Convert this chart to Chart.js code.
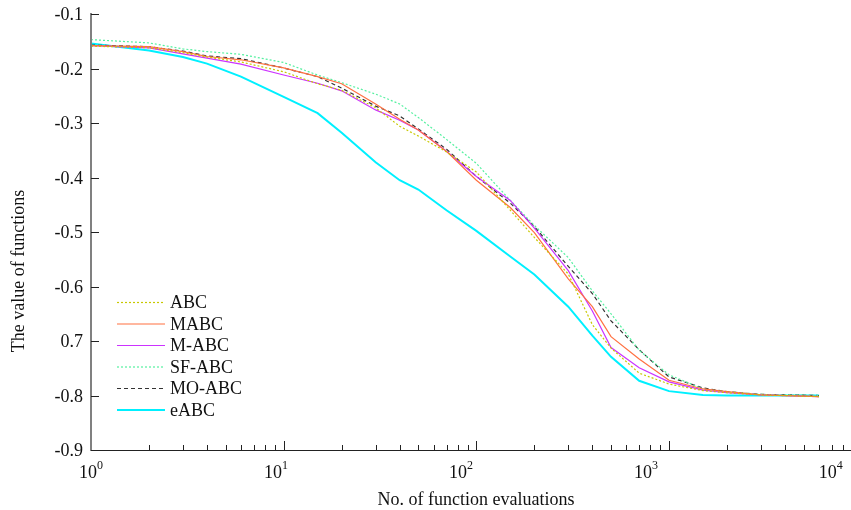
<!DOCTYPE html>
<html>
<head>
<meta charset="utf-8">
<script src="https://cdn.jsdelivr.net/npm/chart.js@4.4.0/dist/chart.umd.min.js"></script>
<style>
html, body { margin: 0; padding: 0; background: #fff; }
</style>
</head>
<body>
<canvas id="grafico" width="851" height="510"></canvas>
<script>
// datos
const evaluaciones = [1, 2, 3, 4, 6, 10, 15, 20, 30, 40, 50, 70, 100, 150, 200, 300, 400, 500, 700, 1000, 1500, 2000, 3000, 6000];
const nombres = ['ABC', 'MABC', 'M-ABC', 'SF-ABC', 'MO-ABC', 'eABC'];

const valoresABC   = [-0.159, -0.162, -0.171, -0.179, -0.188, -0.206, -0.228, -0.240, -0.272, -0.306, -0.324, -0.353, -0.390, -0.460, -0.510, -0.577, -0.670, -0.713, -0.759, -0.779, -0.791, -0.795, -0.799, -0.802];
const valoresMABC  = [-0.158, -0.160, -0.169, -0.178, -0.184, -0.199, -0.215, -0.228, -0.265, -0.293, -0.313, -0.352, -0.405, -0.455, -0.501, -0.586, -0.637, -0.692, -0.733, -0.772, -0.788, -0.793, -0.799, -0.802];
const valoresMABC2 = [-0.158, -0.162, -0.173, -0.181, -0.192, -0.212, -0.227, -0.241, -0.276, -0.295, -0.313, -0.352, -0.398, -0.442, -0.493, -0.571, -0.645, -0.712, -0.749, -0.775, -0.790, -0.795, -0.799, -0.802];
const valoresSF    = [-0.147, -0.153, -0.164, -0.169, -0.174, -0.189, -0.212, -0.226, -0.247, -0.265, -0.290, -0.330, -0.374, -0.442, -0.488, -0.547, -0.608, -0.650, -0.717, -0.762, -0.788, -0.793, -0.798, -0.800];
const valoresMO    = [-0.157, -0.160, -0.168, -0.177, -0.182, -0.199, -0.215, -0.236, -0.269, -0.287, -0.311, -0.348, -0.398, -0.447, -0.490, -0.563, -0.613, -0.663, -0.716, -0.766, -0.786, -0.793, -0.798, -0.800];
const valoresEABC  = [-0.154, -0.167, -0.179, -0.191, -0.215, -0.252, -0.282, -0.318, -0.372, -0.405, -0.422, -0.460, -0.498, -0.545, -0.578, -0.637, -0.690, -0.729, -0.773, -0.792, -0.799, -0.800, -0.800, -0.800];

const ticksY = [-0.1, -0.2, -0.3, -0.4, -0.5, -0.6, -0.7, -0.8, -0.9];
const etiquetasY = ['-0.1', '-0.2', '-0.3', '-0.4', '-0.5', '-0.6', '0.7', '-0.8', '-0.9'];
const exponentesX = ['0', '1', '2', '3', '4'];

const colores = ['#c8c800', '#ff7040', '#cc33ff', '#55f0a0', '#333333', '#00f0ff'];
const guiones = [[2, 2], [], [], [2, 2], [4, 3], []];
const grosores = [1.2, 1.2, 1.2, 1.2, 1.2, 2];

const series = [valoresABC, valoresMABC, valoresMABC2, valoresSF, valoresMO, valoresEABC];

const FUENTE = '"Liberation Serif", "Times New Roman", serif';

const ejesPlugin = {
    id: 'ejes',
    afterDraw(chart) {
        const ctx = chart.ctx;
        const area = chart.chartArea;
        const sx = chart.scales.x;
        const sy = chart.scales.y;
        ctx.save();

        // eje x
        ctx.strokeStyle = '#222';
        ctx.lineWidth = 1;
        ctx.beginPath();
        ctx.moveTo(area.left, area.bottom + 0.5);
        ctx.lineTo(area.right, area.bottom + 0.5);
        ctx.stroke();

        // marcas x (hacia dentro)
        for (let d = 1; d <= 1000; d *= 10) {
            for (let m = 1; m <= 9; m++) {
                const v = d * m;
                if (v > sx.max) continue;
                const px = Math.round(sx.getPixelForValue(v)) + 0.5;
                const largo = m === 1 ? 9 : 5;
                ctx.beginPath();
                ctx.moveTo(px, area.bottom);
                ctx.lineTo(px, area.bottom - largo);
                ctx.stroke();
            }
        }

        // etiquetas x
        ctx.fillStyle = '#111';
        ctx.textBaseline = 'alphabetic';
        ctx.textAlign = 'left';
        exponentesX.forEach((e, k) => {
            const cx = sx.getPixelForValue(Math.pow(10, k * 0.96));
            ctx.font = '18px ' + FUENTE;
            const w1 = ctx.measureText('10').width;
            ctx.font = '12px ' + FUENTE;
            const w2 = ctx.measureText(e).width;
            const x0 = cx - (w1 + w2) / 2;
            ctx.font = '18px ' + FUENTE;
            ctx.fillText('10', x0, 478);
            ctx.font = '12px ' + FUENTE;
            ctx.fillText(e, x0 + w1, 469);
        });

        // eje y
        ctx.strokeStyle = '#808080';
        ctx.lineWidth = 2;
        ctx.beginPath();
        ctx.moveTo(area.left, area.top - 1);
        ctx.lineTo(area.left, area.bottom + 1);
        ctx.stroke();

        ctx.strokeStyle = '#222';
        ctx.lineWidth = 1;
        ctx.font = '18px ' + FUENTE;
        ctx.textAlign = 'right';
        ctx.textBaseline = 'middle';
        ticksY.forEach((v, i) => {
            const py = Math.round(sy.getPixelForValue(v)) + 0.5;
            ctx.beginPath();
            ctx.moveTo(area.left, py);
            ctx.lineTo(area.left + 8, py);
            ctx.stroke();
            ctx.fillText(etiquetasY[i], 83, py + 1);
        });

        // titulos
        ctx.textAlign = 'center';
        ctx.textBaseline = 'middle';
        ctx.fillText('No. of function evaluations', 476, 500);
        ctx.save();
        ctx.translate(19, 271);
        ctx.rotate(-Math.PI / 2);
        ctx.fillText('The value of functions', 0, 0);
        ctx.restore();

        // leyenda
        ctx.textAlign = 'left';
        chart.data.datasets.forEach((ds, i) => {
            const y = 302.5 + i * 21.5;
            ctx.strokeStyle = ds.borderColor;
            ctx.lineWidth = ds.borderWidth;
            ctx.setLineDash(ds.borderDash);
            ctx.beginPath();
            ctx.moveTo(117, y);
            ctx.lineTo(165, y);
            ctx.stroke();
            ctx.setLineDash([]);
            ctx.fillStyle = '#111';
            ctx.fillText(ds.label, 170, y + 1);
        });

        ctx.restore();
    }
};

new Chart(document.getElementById('grafico'), {
    type: 'line',
    data: {
        datasets: series.map((vals, i) => ({
            label: nombres[i],
            data: evaluaciones.map((x, j) => ({ x: x, y: vals[j] })),
            borderColor: colores[i],
            borderWidth: grosores[i],
            borderDash: guiones[i],
            pointRadius: 0,
            tension: 0,
            fill: false
        }))
    },
    options: {
        responsive: false,
        animation: false,
        layout: { padding: { left: 91, right: 0, top: 14, bottom: 60 } },
        plugins: { legend: { display: false }, tooltip: { enabled: false } },
        scales: {
            x: { type: 'logarithmic', min: 1, max: 8800, display: false },
            y: { type: 'linear', min: -0.9, max: -0.1, display: false }
        }
    },
    plugins: [ejesPlugin]
});
</script>
</body>
</html>
